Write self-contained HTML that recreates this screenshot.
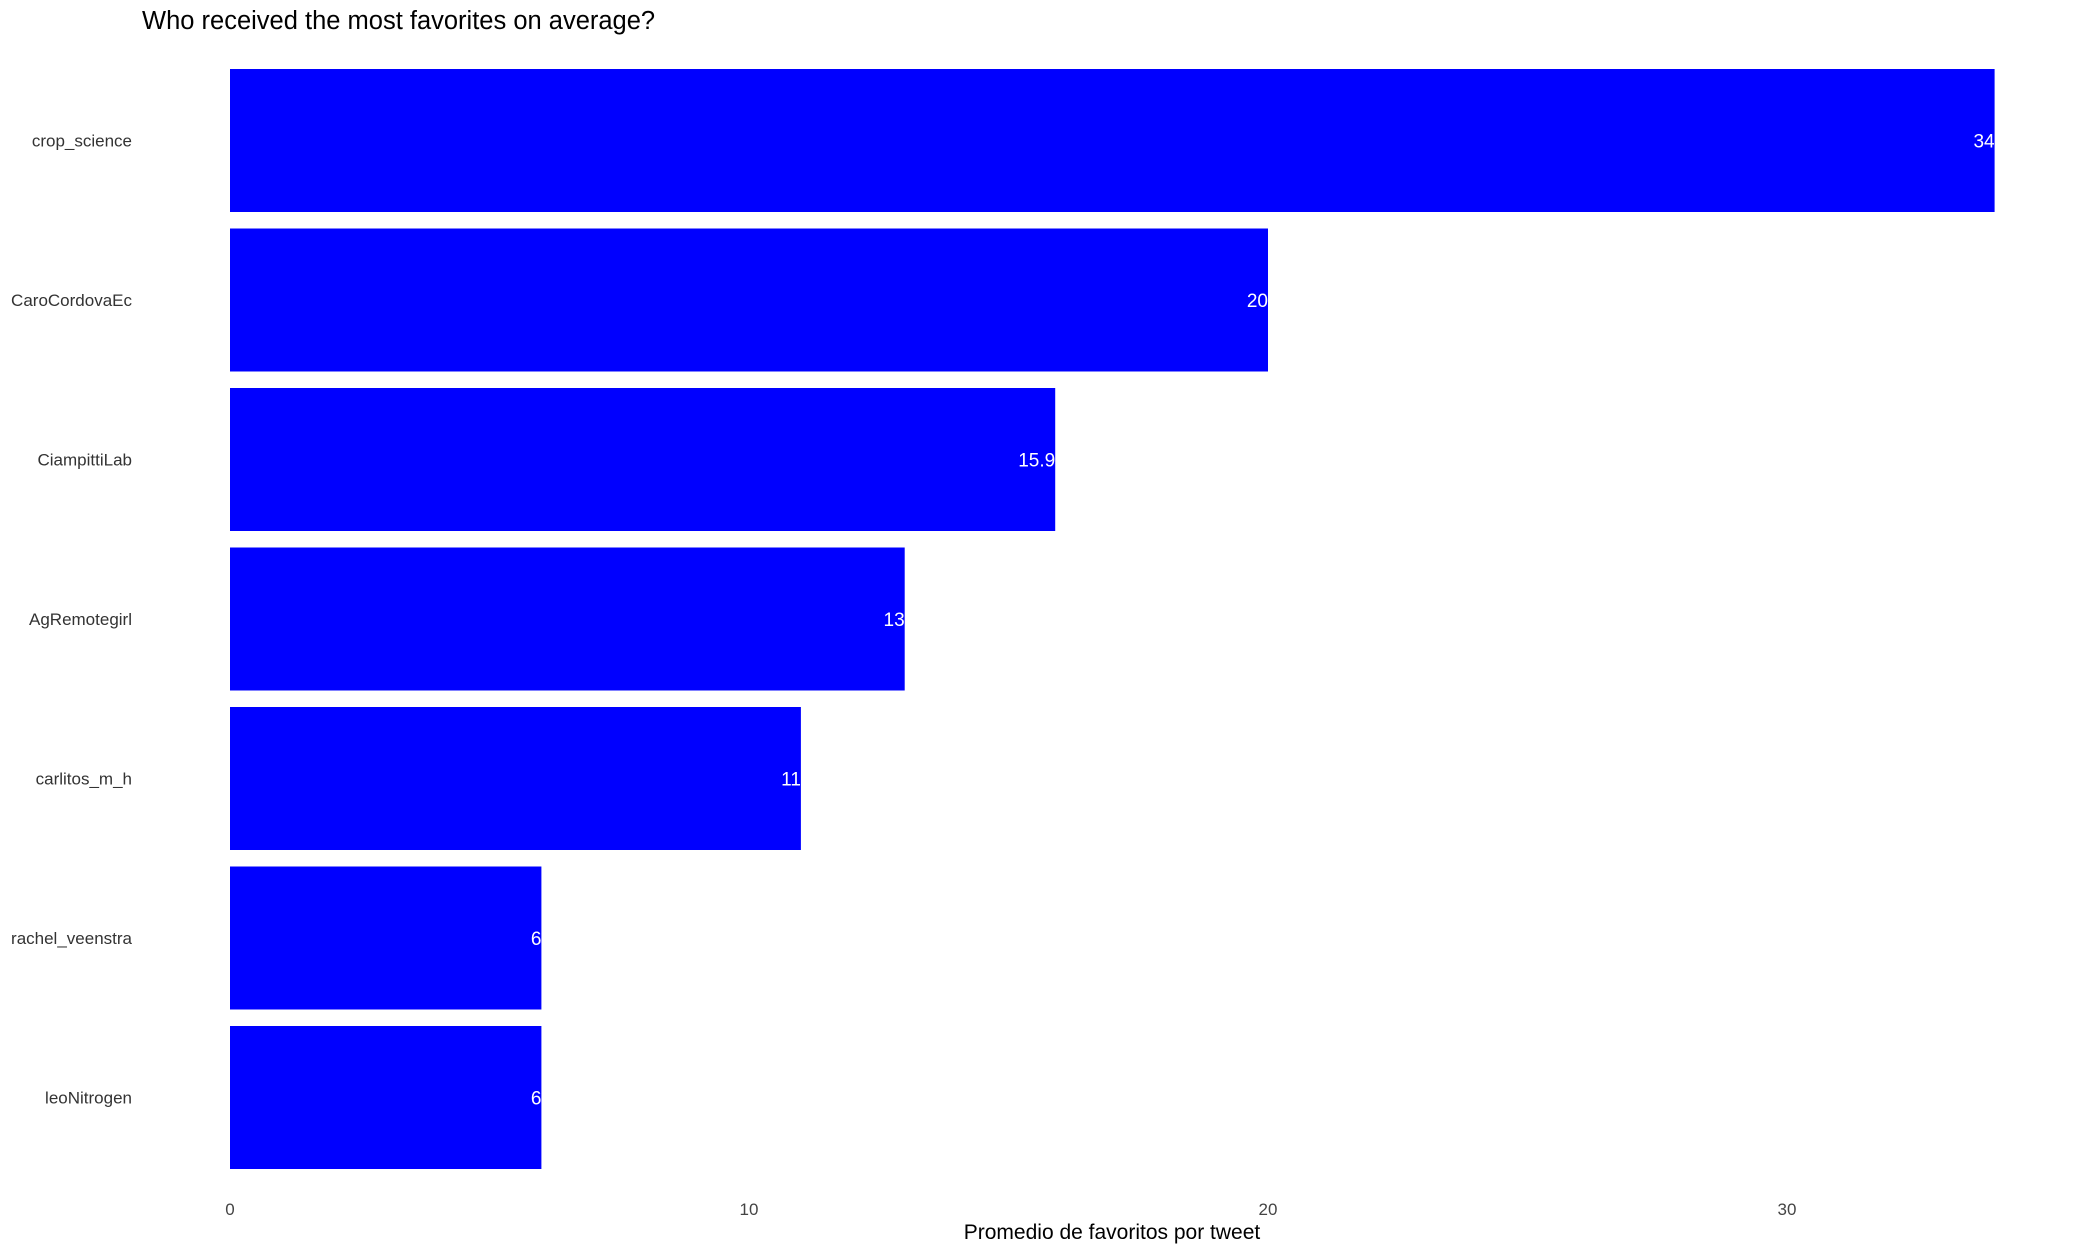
<!DOCTYPE html>
<html><head><meta charset="utf-8"><style>
html,body{margin:0;padding:0;background:#fff;}
svg{display:block;font-family:"Liberation Sans",sans-serif;}
</style></head><body>
<svg id="chart" width="2094" height="1254" xmlns="http://www.w3.org/2000/svg">
<text x="142" y="29" font-size="25.5" fill="#000">Who received the most favorites on average?</text>
<g id="bars"></g>
<g id="ylabels"></g>
<g id="xticks"></g>
<text x="1112" y="1239" font-size="21" fill="#000" text-anchor="middle">Promedio de favoritos por tweet</text>
</svg>
<script>
const categories = ["crop_science","CaroCordovaEc","CiampittiLab","AgRemotegirl","carlitos_m_h","rachel_veenstra","leoNitrogen"];
const values = [34, 20, 15.9, 13, 11, 6, 6];
const valueLabels = ["34","20","15.9","13","11","6","6"];
const xTicks = [0, 10, 20, 30];

const NS = "http://www.w3.org/2000/svg";
const x0 = 230, pxPerUnit = 51.9;
function xScale(v){ return x0 + v * pxPerUnit; }
const top0 = 69, pitch = 159.5, barH = 143;
function yBand(i){ return top0 + i * pitch; }

const bars = document.getElementById('bars');
const ylabels = document.getElementById('ylabels');
const xt = document.getElementById('xticks');

categories.forEach((c, i) => {
  const y = yBand(i);
  const r = document.createElementNS(NS, 'rect');
  r.setAttribute('x', xScale(0));
  r.setAttribute('y', y);
  r.setAttribute('width', xScale(values[i]) - xScale(0));
  r.setAttribute('height', barH);
  r.setAttribute('fill', '#0000ff');
  
  
  bars.appendChild(r);

  const v = document.createElementNS(NS, 'text');
  v.setAttribute('x', xScale(values[i]));
  v.setAttribute('y', y + barH / 2 + 7);
  v.setAttribute('text-anchor', 'end');
  v.setAttribute('font-size', '19');
  v.setAttribute('fill', '#fff');
  v.textContent = valueLabels[i];
  
  
  bars.appendChild(v);

  const l = document.createElementNS(NS, 'text');
  l.setAttribute('x', 132);
  l.setAttribute('y', y + barH / 2 + 6);
  l.setAttribute('text-anchor', 'end');
  l.setAttribute('font-size', '17');
  l.setAttribute('fill', '#333');
  l.textContent = c;
  
  
  ylabels.appendChild(l);
});

xTicks.forEach(t => {
  const tx = document.createElementNS(NS, 'text');
  tx.setAttribute('x', xScale(t));
  tx.setAttribute('y', 1215);
  tx.setAttribute('text-anchor', 'middle');
  tx.setAttribute('font-size', '17');
  tx.setAttribute('fill', '#444');
  tx.textContent = String(t);
  
  
  xt.appendChild(tx);
});
</script>
</body></html>
